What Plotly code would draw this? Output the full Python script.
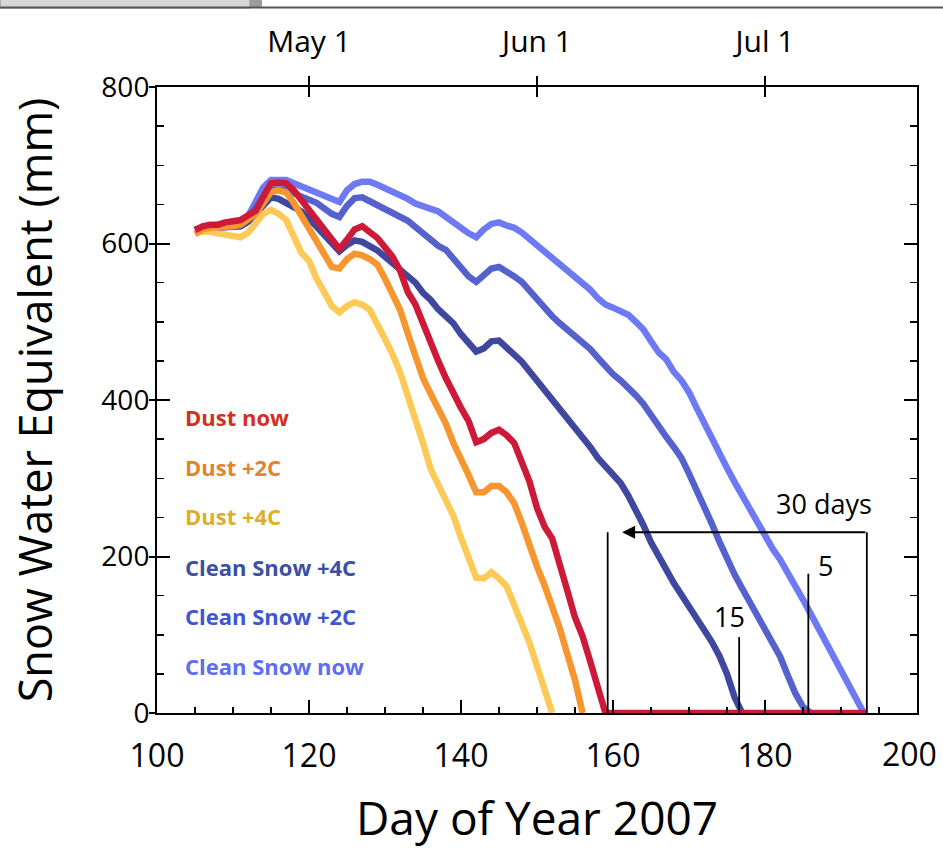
import plotly.graph_objects as go

# ---------------- data ----------------
first_day = 105
dust_now = [617, 622, 624, 624, 627, 628, 630, 636, 642, 660, 677, 678, 677, 668, 656, 643, 631, 618,
            605, 593, 605, 618, 622, 615, 607, 595, 583, 565, 538, 522, 497, 472, 450, 428, 408, 390,
            373, 346, 350, 358, 362, 355, 345, 322, 296, 262, 238, 223, 192, 156, 122, 98, 66, 32, 0]
dust_2c = [612, 618, 620, 620, 621, 622, 624, 630, 638, 652, 666, 668, 665, 652, 635, 617, 600, 585,
           570, 568, 580, 587, 585, 580, 573, 555, 535, 515, 485, 455, 428, 408, 390, 370, 345, 322,
           304, 282, 282, 290, 290, 282, 268, 243, 213, 187, 163, 137, 108, 75, 42, 0]
dust_4c = [615, 616, 615, 613, 611, 609, 608, 614, 625, 638, 643, 638, 630, 610, 588, 578, 555, 538,
           520, 512, 520, 525, 522, 515, 498, 478, 458, 435, 405, 377, 345, 312, 292, 275, 252, 224,
           200, 173, 172, 180, 172, 162, 138, 115, 90, 60, 28, 0]
clean_4c = [618, 620, 620, 620, 621, 621, 622, 628, 638, 650, 659, 657, 652, 646, 641, 632, 621, 611,
            600, 590, 598, 604, 602, 597, 591, 583, 575, 565, 558, 550, 537, 528, 516, 508, 498, 484,
            472, 462, 466, 475, 476, 468, 458, 449, 437, 426, 414, 403, 391, 379, 366, 353, 340, 326,
            315, 303, 294, 278, 260, 240, 218, 200, 183, 166, 151, 136, 121, 107, 91, 73, 50, 20, 0]
clean_2c = [618, 620, 620, 621, 622, 623, 624, 632, 645, 660, 669, 670, 669, 664, 660, 655, 652, 645,
            638, 634, 648, 658, 659, 654, 649, 645, 640, 634, 629, 621, 613, 607, 597, 592, 580, 567,
            558, 551, 560, 568, 570, 565, 558, 551, 540, 528, 516, 507, 498, 490, 482, 473, 465, 454,
            443, 433, 425, 416, 406, 395, 380, 366, 353, 340, 326, 306, 286, 264, 242, 219, 196, 177,
            159, 141, 124, 106, 90, 72, 48, 25, 8, 0]
clean_now = [618, 620, 621, 622, 622, 623, 625, 635, 652, 672, 681, 682, 681, 677, 673, 669, 665, 661,
             657, 653, 668, 676, 679, 679, 675, 671, 666, 662, 657, 651, 647, 644, 641, 634, 627, 619,
             613, 608, 618, 625, 627, 623, 620, 614, 606, 598, 590, 583, 575, 567, 559, 550, 541, 530,
             522, 518, 514, 509, 500, 490, 475, 461, 452, 436, 425, 410, 390, 370, 349, 330, 313, 295,
             278, 261, 243, 225, 210, 196, 180, 164, 145, 127, 109, 91, 74, 55, 35, 18, 0]
zero_line_end = 193.4

series_names = ["Dust now", "Dust +2C", "Dust +4C", "Clean Snow +4C", "Clean Snow +2C", "Clean Snow now"]
line_colors = ["#cc1a38", "#f7962f", "#fdca58", "#3f479f", "#5561cc", "#6e79f4"]
label_colors = ["#d42e20", "#e2832f", "#dbae2c", "#3c4fa3", "#3e56d0", "#5d6ef0"]
label_values = [378, 314, 252, 187, 124, 60]

# melt-out annotation values
meltout_dust_now = 159.3
meltout_clean_now = 193.4
meltout_clean_4c = 176.6
meltout_clean_2c = 185.7
bracket_height = 231
label_30 = "30 days"
label_15 = "15"
label_5 = "5"

x_ticks = [100, 120, 140, 160, 180, 200]
x_tick_text = ["100", "120", "140", "160", "180", ""]
last_x_tick = 200
month_ticks = [120, 150, 180]
month_labels = ["May 1", "Jun 1", "Jul 1"]
y_ticks = [0, 200, 400, 600, 800]

FONT = "Open Sans"

fig = go.Figure()

def days_for(vals):
    return [first_day + i for i in range(len(vals))]

order = [5, 4, 3, 2, 1, 0]
data = [dust_now, dust_2c, dust_4c, clean_4c, clean_2c, clean_now]
for i in order:
    vals = list(data[i])
    xs = days_for(vals)
    if i == 0:
        xs = xs + [zero_line_end]
        vals = vals + [0]
    fig.add_trace(go.Scatter(x=xs, y=vals, mode="lines", name=series_names[i],
                             line=dict(color=line_colors[i], width=6.5, shape="linear"),
                             showlegend=False, hoverinfo="skip"))

# dummy traces to activate overlay axes
fig.add_trace(go.Scatter(x=[None], y=[None], xaxis="x2", yaxis="y", showlegend=False))
fig.add_trace(go.Scatter(x=[None], y=[None], xaxis="x3", yaxis="y", showlegend=False))
fig.add_trace(go.Scatter(x=[None], y=[None], xaxis="x", yaxis="y2", showlegend=False))

# series labels
for i in range(6):
    fig.add_annotation(x=103.4, y=label_values[i], xref="x", yref="y", text="<b>%s</b>" % series_names[i],
                       showarrow=False, xanchor="left", yanchor="middle",
                       font=dict(family=FONT, size=22, color=label_colors[i]))

# last bottom tick label, nudged inward so it stays inside the page
fig.add_annotation(x=last_x_tick, y=0, xref="x", yref="y", text=str(last_x_tick), showarrow=False,
                   xanchor="center", yanchor="top", xshift=-8, yshift=-17,
                   font=dict(family=FONT, size=32, color="black"))

# melt-out lines
lw = 1.8
for xv, top in [(meltout_dust_now, bracket_height), (meltout_clean_now, bracket_height),
                (meltout_clean_4c, 97), (meltout_clean_2c, 178)]:
    fig.add_shape(type="line", x0=xv, x1=xv, y0=0, y1=top, xref="x", yref="y",
                  line=dict(color="black", width=lw))
fig.add_annotation(x=meltout_dust_now + 1.9, y=bracket_height, ax=meltout_clean_now, ay=bracket_height,
                   xref="x", yref="y", axref="x", ayref="y", showarrow=True, text="",
                   arrowhead=2, arrowsize=1.3, arrowwidth=2, arrowcolor="black", standoff=0, startstandoff=0)
fig.add_annotation(x=187.8, y=268, xref="x", yref="y", text=label_30, showarrow=False,
                   font=dict(family=FONT, size=27, color="black"))
fig.add_annotation(x=175.3, y=123, xref="x", yref="y", text=label_15, showarrow=False,
                   font=dict(family=FONT, size=27, color="black"))
fig.add_annotation(x=187.9, y=188, xref="x", yref="y", text=label_5, showarrow=False,
                   font=dict(family=FONT, size=27, color="black"))

# screenshot strip at the very top
W, H = 943, 848
L, R, T, B = 157, 26, 87, 135
pw, ph = W - L - R, H - T - B
def px(xp):
    return (xp - L) / pw
def py(yp):
    return (H - B - yp) / ph
fig.add_shape(type="rect", xref="paper", yref="paper", x0=px(0), x1=px(250), y0=py(8), y1=py(-2),
              fillcolor="#d6d6d6", line=dict(color="#8a8a8a", width=1), layer="above")
fig.add_shape(type="rect", xref="paper", yref="paper", x0=px(250), x1=px(262), y0=py(8), y1=py(-2),
              fillcolor="#9c9c9c", line=dict(width=0), layer="above")
fig.add_shape(type="line", xref="paper", yref="paper", x0=px(0), x1=px(943), y0=py(7.5), y1=py(7.5),
              line=dict(color="#555555", width=2), layer="above")

fig.update_layout(
    width=W, height=H,
    margin=dict(l=L, r=R, t=T, b=B, autoexpand=False),
    paper_bgcolor="white", plot_bgcolor="white",
    font=dict(family=FONT, color="black"),
    xaxis=dict(range=[100, 200], tickvals=x_ticks, ticktext=x_tick_text, ticks="inside", ticklen=13,
               tickwidth=2, tickcolor="black", showline=True, linewidth=2, linecolor="black", mirror=True,
               showgrid=False, zeroline=False, tickfont=dict(size=32), ticklabelstandoff=14,
               ticklabeloverflow="allow", automargin=False,
               minor=dict(dtick=5, tick0=100, ticks="inside", ticklen=6, tickwidth=1.5, tickcolor="black"),
               title=dict(text="Day of Year 2007", font=dict(size=46), standoff=36)),
    xaxis2=dict(overlaying="x", side="top", anchor="y", range=[100, 200], tickvals=month_ticks,
                ticktext=month_labels, ticks="outside", ticklen=10, tickwidth=2.5, tickcolor="black",
                showline=False, showgrid=False, zeroline=False, tickfont=dict(size=30),
                ticklabelstandoff=12, automargin=False),
    xaxis3=dict(overlaying="x", side="top", anchor="y", range=[100, 200], tickvals=month_ticks,
                ticks="inside", ticklen=10, tickwidth=2.5, tickcolor="black", showticklabels=False,
                showline=False, showgrid=False, zeroline=False, automargin=False),
    yaxis=dict(range=[0, 800], tickvals=y_ticks, ticks="inside", ticklen=13, tickwidth=2,
               tickcolor="black", showline=True, linewidth=2, linecolor="black", mirror="ticks",
               showgrid=False, zeroline=False, tickfont=dict(size=28), automargin=False,
               minor=dict(dtick=50, tick0=0, ticks="inside", ticklen=7, tickwidth=1.5, tickcolor="black"),
               title=dict(text="Snow Water Equivalent (mm)", font=dict(size=45), standoff=35)),
    yaxis2=dict(overlaying="y", side="left", anchor="x", range=[0, 800], tickvals=y_ticks,
                ticks="outside", ticklen=7, tickwidth=2, tickcolor="black", showticklabels=False,
                showline=False, showgrid=False, zeroline=False, automargin=False),
)

fig.write_html("out.html", config={"displayModeBar": False, "staticPlot": True},
               post_script="document.body.style.margin='0';document.body.style.padding='0';"
                           "document.documentElement.style.overflow='hidden';")
